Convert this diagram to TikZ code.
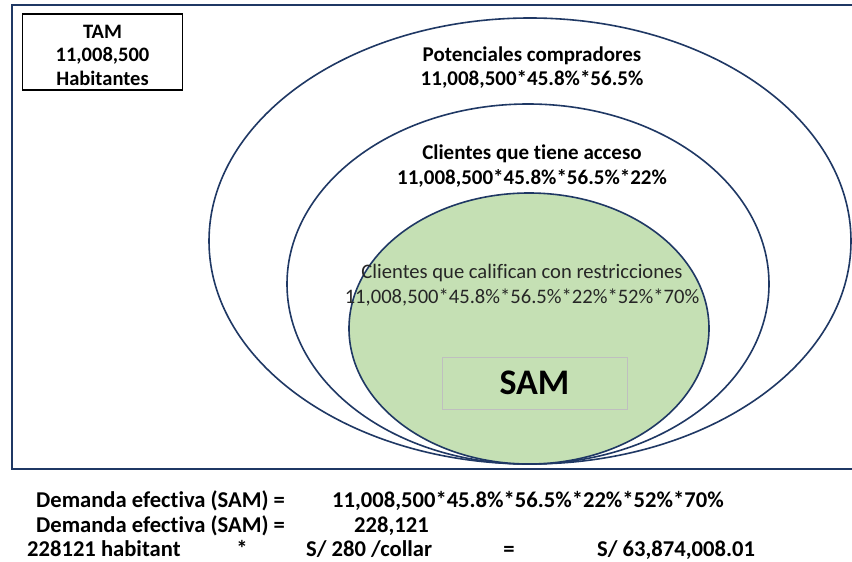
\documentclass[tikz,border=0pt]{standalone}
\usepackage{fontspec}
\setmainfont{Carlito}[Ligatures=NoCommon]
\usepackage{tikz}
\definecolor{navy}{HTML}{1F3864}
\definecolor{verde}{HTML}{C5E0B4}

\begin{document}
\begin{tikzpicture}[x=1pt,y=-1pt,
    elipse/.style={draw=navy,line width=1.6pt},
    rotulo/.style={font=\fontsize{21}{24.5}\selectfont\bfseries,align=center,inner sep=0pt},
    calculo/.style={font=\fontsize{22.6}{26}\selectfont\bfseries,anchor=base west,inner sep=0pt}]
  \useasboundingbox[fill=white] (0,0) rectangle (852,562);
  % marco
  \draw[navy,line width=2pt] (852,5) -- (12,5) -- (12,469) -- (852,469);
  % elipses
  \draw[elipse] (530,241) ellipse [x radius=321,y radius=223];
  \draw[elipse] (528,284) ellipse [x radius=241,y radius=180];
  \draw[elipse,fill=verde] (529,328.5) ellipse [x radius=180,y radius=135.5];

  \node[draw,line width=1.5pt,minimum width=160pt,minimum height=76pt] (tam) at (102.5,52) {};
  \node[rotulo,font=\fontsize{20.5}{23.5}\selectfont\bfseries] (tamtxt) at (102.5,55) {TAM\\11,008,500\\Habitantes};

  \node[rotulo] (potenciales) at (532,67.5) {Potenciales compradores\\11,008,500*45.8\%*56.5\%};
  \node[rotulo] (acceso) at (532,166) {Clientes que tiene acceso\\11,008,500*45.8\%*56.5\%*22\%};
  \node[rotulo,font=\fontsize{20.6}{25}\selectfont,text=black!85] (califican) at (522,285)
    {Clientes que califican con restricciones\\11,008,500*45.8\%*56.5\%*22\%*52\%*70\%};
  \node[draw=black!25,minimum width=185pt,minimum height=52pt,font=\fontsize{36}{40}\selectfont\bfseries] (sam) at (534.5,383) {SAM};

  % demanda efectiva
  \node[calculo] (dem1) at (36,507) {Demanda efectiva (SAM) =};
  \node[calculo] (form) at (332,507) {11,008,500*45.8\%*56.5\%*22\%*52\%*70\%};
  \node[calculo] (dem2) at (36,532) {Demanda efectiva (SAM) =};
  \node[calculo] (res) at (354,532) {228,121};
  \node[calculo] (hab) at (27,556) {228121 habitant};
  \node[calculo,anchor=base] (por) at (242,556) {*};
  \node[calculo] (precio) at (306,556) {S/ 280 /collar};
  \node[calculo,anchor=base] (igual) at (509,556) {=};
  \node[calculo] (total) at (597,556) {S/ 63,874,008.01};
\end{tikzpicture}
\end{document}
